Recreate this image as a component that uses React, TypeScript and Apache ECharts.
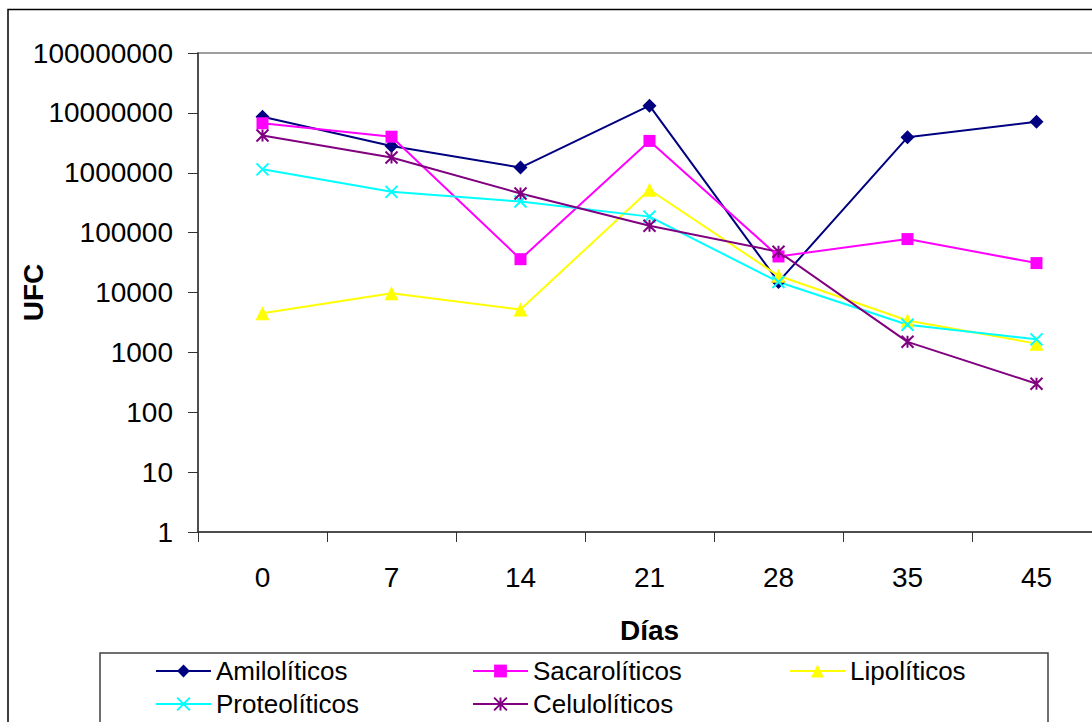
import React, { useEffect, useRef } from 'react';
import * as echarts from 'echarts';

const days = ['0', '7', '14', '21', '28', '35', '45'];
const amiloliticos = [8.6e6, 2.8e6, 1.22e6, 1.32e7, 1.5e4, 3.9e6, 7.1e6];
const sacaroliticos = [6.7e6, 4.0e6, 3.6e4, 3.4e6, 4.0e4, 7.8e4, 3.1e4];
const lipoliticos = [4.5e3, 9.7e3, 5.2e3, 5.2e5, 1.9e4, 3.4e3, 1.4e3];
const proteoliticos = [1.14e6, 4.8e5, 3.3e5, 1.85e5, 1.5e4, 2.9e3, 1.65e3];
const celuloliticos = [4.2e6, 1.8e6, 4.5e5, 1.3e5, 4.8e4, 1.5e3, 3.0e2];
const yTickLabels = ['1', '10', '100', '1000', '10000', '100000', '1000000', '10000000', '100000000'];

const FONT = 'Arial, "Liberation Sans", sans-serif';

function mkSeries(name: string, data: number[], color: string, symbol: string, size: number, stroked: boolean) {
  return {
    name,
    type: 'line',
    data,
    symbol,
    symbolSize: size,
    showSymbol: true,
    showAllSymbol: true,
    lineStyle: { color, width: 2 },
    itemStyle: { color, borderColor: color, borderWidth: stroked ? 2 : 0 },
    emphasis: { disabled: true },
  };
}

export default function App() {
  const ref = useRef<HTMLDivElement>(null);
  useEffect(() => {
    document.body.style.margin = '0';
    document.body.style.overflow = 'hidden';
    const chart = echarts.init(ref.current!, null, { renderer: 'svg' });
    const legendBase = {
      orient: 'horizontal',
      itemWidth: 55,
      itemHeight: 16,
      padding: 0,
      selectedMode: false,
      textStyle: { fontSize: 26, color: '#000', fontFamily: FONT },
    };
    chart.setOption({
      animation: false,
      backgroundColor: '#fff',
      grid: {
        show: true,
        borderColor: '#808080',
        borderWidth: 1.5,
        left: 198,
        top: 53,
        width: 903,
        height: 479,
        containLabel: false,
        outerBoundsMode: 'none',
      },
      xAxis: {
        type: 'category',
        data: days,
        boundaryGap: true,
        name: 'Días',
        nameLocation: 'middle',
        nameGap: 84,
        nameMoveOverlap: false,
        nameTextStyle: { fontSize: 28, fontWeight: 'bold', color: '#000', fontFamily: FONT },
        axisLine: { show: true, lineStyle: { color: '#333', width: 1.5 } },
        axisTick: { show: true, interval: 0, length: 10, lineStyle: { color: '#333', width: 1 } },
        axisLabel: { interval: 0, fontSize: 28, margin: 31, color: '#000', fontFamily: FONT },
        splitLine: { show: false },
      },
      yAxis: {
        type: 'log',
        logBase: 10,
        min: 1,
        max: 1e8,
        interval: 1,
        name: 'UFC',
        nameLocation: 'middle',
        nameRotate: 90,
        nameGap: 151,
        nameMoveOverlap: false,
        nameTextStyle: { fontSize: 28, fontWeight: 'bold', color: '#000', fontFamily: FONT },
        axisLine: { show: true, onZero: false, lineStyle: { color: '#333', width: 1.5 } },
        axisTick: { show: true, length: 10, lineStyle: { color: '#333', width: 1 } },
        minorTick: { show: false },
        axisLabel: {
          fontSize: 28,
          margin: 25,
          color: '#000',
          fontFamily: FONT,
          formatter: (v: number) => yTickLabels[Math.round(Math.log10(v))] ?? String(v),
        },
        splitLine: { show: false },
      },
      legend: [
        { ...legendBase, data: ['Amilolíticos'], left: 155, top: 658 },
        { ...legendBase, data: ['Sacarolíticos'], left: 472, top: 658 },
        { ...legendBase, data: ['Lipolíticos'], left: 789, top: 658 },
        { ...legendBase, data: ['Proteolíticos'], left: 155, top: 691 },
        { ...legendBase, data: ['Celulolíticos'], left: 472, top: 691 },
      ],
      graphic: [
        {
          type: 'rect',
          z: -10,
          silent: true,
          shape: { x: 8, y: 9.5, width: 1200, height: 800 },
          style: { fill: 'none', stroke: '#000', lineWidth: 1.5 },
        },
        {
          type: 'rect',
          z: -5,
          silent: true,
          shape: { x: 100, y: 653, width: 948, height: 100 },
          style: { fill: '#fff', stroke: '#404040', lineWidth: 1.5 },
        },
      ],
      series: [
        mkSeries('Amilolíticos', amiloliticos, '#000080', 'diamond', 14, false),
        mkSeries('Sacarolíticos', sacaroliticos, '#FF00FF', 'rect', 12, false),
        mkSeries('Lipolíticos', lipoliticos, '#FFFF00', 'triangle', 14, false),
        mkSeries('Proteolíticos', proteoliticos, '#00FFFF', 'path://M0,0L10,10M10,0L0,10', 12, true),
        mkSeries('Celulolíticos', celuloliticos, '#800080', 'path://M0,0L10,10M10,0L0,10M5,0L5,10', 12, true),
      ],
    });
    return () => chart.dispose();
  }, []);
  return <div ref={ref} style={{ width: 1092, height: 722 }} />;
}
